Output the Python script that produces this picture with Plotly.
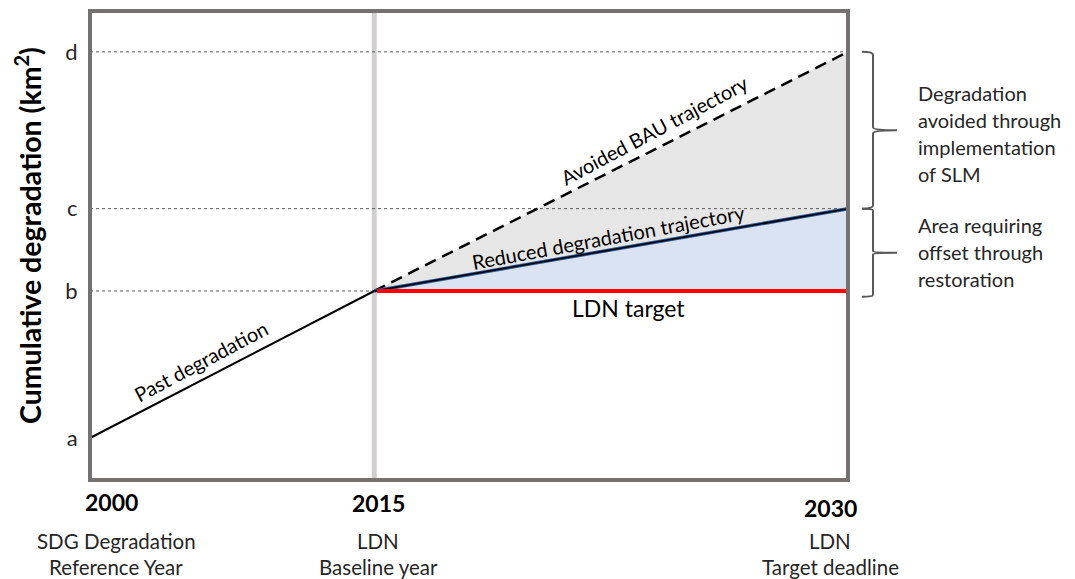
import plotly.graph_objects as go

# ---- data (schematic values) ----
years = [2000, 2015, 2030]
year_pos = [0, 15, 40]            # schematic horizontal spacing of the three years
level_names = ["a", "b", "c", "d"]
level_vals = [10, 25, 33.4, 49.4]  # cumulative degradation levels (schematic)
past_deg = [10, 25]               # 2000 -> 2015
bau_traj = [25, 49.4]             # 2015 -> 2030 business as usual
reduced_traj = [25, 33.4]         # 2015 -> 2030 reduced degradation
ldn_target = [25, 25]             # 2015 -> 2030 LDN target
year_sub = ["SDG Degradation<br>Reference Year", "LDN<br>Baseline year", "LDN<br>Target deadline"]

OFF = 8  # page body margin in the browser
W, H = 1075 - OFF, 579 - OFF
# plot frame in screenshot pixels
SL, SR, ST, SB = 90, 848, 11, 480
L, R, T, B = SL - OFF, SR - OFF, ST - OFF, SB - OFF
XR = [0, 40]
YR = [5.714, 53.57]

def xd(px):
    return XR[0] + (px - SL) / (SR - SL) * (XR[1] - XR[0])

def yd(py):
    return YR[0] + (SB - py) / (SB - ST) * (YR[1] - YR[0])

def xp(px):
    return (px - SL) / (SR - SL)

def yp(py):
    return (SB - py) / (SB - ST)

FONT = "Lato, 'Open Sans', sans-serif"
a, b, c, d = level_vals
x00, x15, x30 = year_pos

fig = go.Figure()

# gray area (avoided degradation)
fig.add_trace(go.Scatter(x=[x15, x30, x30, x15], y=[bau_traj[0], bau_traj[1], reduced_traj[1], reduced_traj[0]],
                         fill="toself", fillcolor="#e7e6e6", line=dict(width=0), mode="lines",
                         hoverinfo="skip", showlegend=False))
# blue area (offset through restoration)
fig.add_trace(go.Scatter(x=[x15, x30, x30, x15], y=[reduced_traj[0], reduced_traj[1], ldn_target[1], ldn_target[0]],
                         fill="toself", fillcolor="#dae3f3", line=dict(width=0), mode="lines",
                         hoverinfo="skip", showlegend=False))

# dotted reference lines at b, c, d
for v in level_vals[1:]:
    fig.add_trace(go.Scatter(x=[XR[0], XR[1]], y=[v, v], mode="lines",
                             line=dict(color="#595959", width=1, dash="3px,3px"),
                             hoverinfo="skip", showlegend=False))

# past degradation
fig.add_trace(go.Scatter(x=[x00, x15], y=past_deg, mode="lines",
                         line=dict(color="black", width=2), showlegend=False))
# BAU dashed
fig.add_trace(go.Scatter(x=[x15, x30], y=bau_traj, mode="lines",
                         line=dict(color="black", width=2.5, dash="12px,7px"), showlegend=False))
# reduced trajectory (navy under black)
fig.add_trace(go.Scatter(x=[x15, x30], y=reduced_traj, mode="lines",
                         line=dict(color="#2f5597", width=3.5), showlegend=False))
fig.add_trace(go.Scatter(x=[x15, x30], y=reduced_traj, mode="lines",
                         line=dict(color="black", width=1.6), showlegend=False))
# LDN target red
fig.add_trace(go.Scatter(x=[x15 + 0.15, x30], y=ldn_target, mode="lines",
                         line=dict(color="#ff0000", width=4), showlegend=False))

shapes = []
# 2015 vertical gray line
shapes.append(dict(type="line", xref="x", yref="paper", x0=x15, x1=x15, y0=0, y1=1,
                   line=dict(color="#d0cece", width=5), layer="below"))
# frame
shapes.append(dict(type="rect", xref="paper", yref="paper", x0=0, x1=1, y0=0, y1=1,
                   line=dict(color="#767171", width=4), layer="above"))

# curly braces to the right (paper x, data y)
def brace(y_top, y_bot):
    xh, xv, xt = xp(862), xp(873), xp(897)
    ym = (y_top + y_bot) / 2
    k = (y_top - y_bot) * 0.02
    path = (f"M {xh},{y_top} Q {xv},{y_top} {xv},{y_top - k} "
            f"L {xv},{ym + k} Q {xv},{ym} {xt},{ym} Q {xv},{ym} {xv},{ym - k} "
            f"L {xv},{y_bot + k} Q {xv},{y_bot} {xh},{y_bot}")
    return dict(type="path", xref="paper", yref="y", path=path,
                line=dict(color="#595959", width=2))

shapes.append(brace(d, c))
shapes.append(brace(c, b - 0.6))

annotations = []
# y-axis title
annotations.append(dict(text="<b>Cumulative degradation (km<sup>2</sup>)</b>", xref="paper", yref="paper",
                        x=xp(28), y=yp(236), textangle=-90, showarrow=False,
                        font=dict(family=FONT, size=28.5, color="black"), xanchor="center", yanchor="middle"))
# year labels
year_label_px = [(111, 502), (378, 503), (830, 508)]
sub_px = [116, 378, 830]
for yr, (px, py), sx, sub in zip(years, year_label_px, sub_px, year_sub):
    annotations.append(dict(text=f"<b>{yr}</b>", xref="paper", yref="paper", x=xp(px), y=yp(py),
                            showarrow=False, font=dict(family=FONT, size=23, color="black"),
                            xanchor="center", yanchor="middle"))
    for i, line in enumerate(sub.split("<br>")):
        annotations.append(dict(text=line, xref="paper", yref="paper", x=xp(sx), y=yp(541 + 26 * i),
                                showarrow=False, font=dict(family=FONT, size=20.5, color="#262626"),
                                xanchor="center", yanchor="middle"))

# line labels
annotations.append(dict(text="Past degradation", x=xd(201), y=yd(361), textangle=-28, showarrow=False,
                        font=dict(family=FONT, size=20, color="black")))
annotations.append(dict(text="Avoided BAU trajectory", x=xd(654), y=yd(130), textangle=-28, showarrow=False,
                        font=dict(family=FONT, size=20, color="black")))
annotations.append(dict(text="Reduced degradation trajectory", x=xd(608), y=yd(237), textangle=-10.5,
                        showarrow=False, font=dict(family=FONT, size=20, color="black")))
annotations.append(dict(text="LDN target", x=xd(628), y=yd(308), showarrow=False,
                        font=dict(family=FONT, size=23, color="black")))

# right side explanations
right_texts = [["Degradation", "avoided through", "implementation", "of SLM"],
               ["Area requiring", "offset through", "restoration"]]
right_start = [93, 225]
for lines, y0 in zip(right_texts, right_start):
    for i, t in enumerate(lines):
        annotations.append(dict(text=t, xref="paper", yref="paper", x=xp(917), y=yp(y0 + 27 * i),
                                showarrow=False, xanchor="left", yanchor="middle", borderpad=0,
                                font=dict(family=FONT, size=20, color="#262626")))

fig.update_layout(
    width=W, height=H,
    margin=dict(l=L, r=W - R, t=T, b=H - B, pad=0),
    plot_bgcolor="white", paper_bgcolor="white",
    shapes=shapes, annotations=annotations,
    xaxis=dict(range=XR, showgrid=False, zeroline=False, showticklabels=False, showline=False, fixedrange=True),
    yaxis=dict(range=YR, showgrid=False, zeroline=False, showline=False,
               tickvals=level_vals, ticktext=level_names, ticks="outside", ticklen=7,
               tickcolor="rgba(0,0,0,0)", tickfont=dict(family=FONT, size=22, color="#262626"),
               fixedrange=True),
    showlegend=False,
)

fig.write_html("out.html")
